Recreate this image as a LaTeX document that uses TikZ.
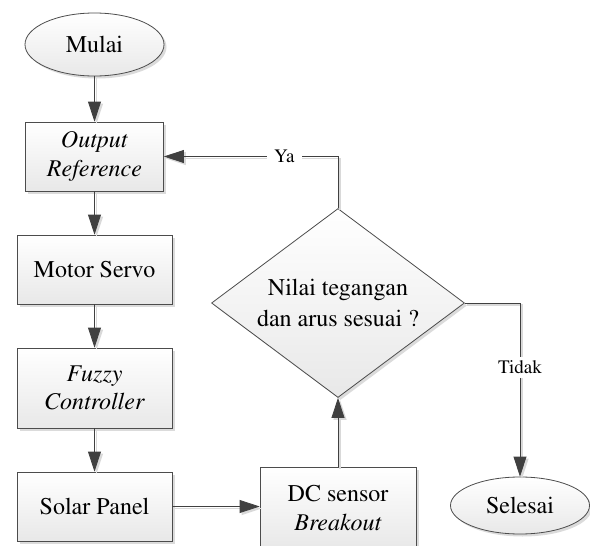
\documentclass[tikz,border=0pt]{standalone}
\usepackage[T1]{fontenc}
\usepackage{times}
\usetikzlibrary{shapes.geometric,arrows.meta,shadows}
\tikzset{
  base/.style={draw=black!70, line width=0.8pt, top color=white, bottom color=black!9,
    drop shadow={shadow xshift=2.5pt, shadow yshift=-2.5pt, fill=black!14, opacity=1},
    inner sep=0pt, align=center, font=\fontsize{24}{28.5}\selectfont},
  stepbox/.style={base, rectangle, minimum height=69pt},
  term/.style={base, ellipse, minimum width=139pt, minimum height=63pt},
  decision/.style={base, diamond, aspect=1.34, minimum width=253pt, minimum height=189pt,
    font=\fontsize{24}{31}\selectfont},
  conn/.style={draw=black!75, line width=0.8pt, -{Triangle[length=20pt,width=13pt]},
    preaction={draw=black!15, line width=1.2pt, transform canvas={shift={(2pt,-2pt)}}}},
  lbl/.style={fill=white, font=\fontsize{19}{22}\selectfont, inner xsep=7pt, inner ysep=4pt}
}
\begin{document}
\begin{tikzpicture}[x=1pt,y=-1pt]
\useasboundingbox (0,0) rectangle (590,546);
\node[term] (mulai) at (94.5,44.5) {Mulai};
\node[stepbox, minimum width=138pt] (outref) at (94.5,156.5) {\textit{Output}\\\textit{Reference}};
\node[stepbox, minimum width=155pt] (motor) at (94.5,269.5) {Motor Servo};
\node[stepbox, minimum width=155pt, minimum height=80pt] (fuzzy) at (94.5,388) {\textit{Fuzzy}\\\textit{Controller}};
\node[stepbox, minimum width=155pt] (solar) at (94.5,506.5) {Solar Panel};
\node[stepbox, minimum width=156pt, minimum height=82pt] (dc) at (338,508) {DC sensor\\\textit{Breakout}};
\node[decision] (dec) at (338,303) {Nilai tegangan\\dan arus sesuai ?};
\node[term, minimum height=57pt] (selesai) at (520,505.5) {Selesai};

\draw[conn] (mulai) -- (outref);
\draw[conn] (outref) -- (motor);
\draw[conn] (motor) -- (fuzzy);
\draw[conn] (fuzzy) -- (solar);
\draw[conn] (solar.east) -- (solar.east -| dc.west);
\draw[conn] (dc) -- (dec);
\draw[conn] (dec.north) |- node[lbl, pos=0.654] {Ya} (outref.east);
\draw[conn] (dec.east) -| node[lbl, pos=0.685] {Tidak} (selesai.north);
\end{tikzpicture}
\end{document}
